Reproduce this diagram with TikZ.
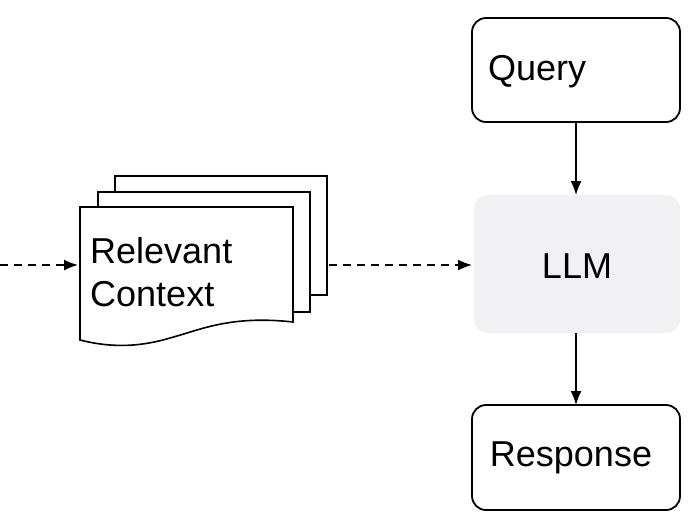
\documentclass[tikz,border=0pt]{standalone}
\usepackage{fontspec}
\setmainfont{Liberation Sans}
\usetikzlibrary{arrows.meta}
\begin{document}
\begin{tikzpicture}[x=1pt,y=-1pt,
  box/.style={draw=black,line width=1.8pt,rounded corners=14pt},
  doc/.style={draw=black,line width=1.6pt,fill=white},
  arr/.style={-{Latex[length=14pt,width=11pt]},line width=1.5pt},
  dasharr/.style={arr,dash pattern=on 8pt off 6pt},
  txt/.style={font=\fontsize{36}{43}\selectfont,inner sep=0pt}]
\useasboundingbox (0,0) rectangle (700,525);
\draw[box] (472,18) rectangle (680,122);
\node[txt,anchor=west] (query) at (488,72) {Query};
\coordinate (qb) at (576,122);
\fill[rounded corners=14pt,fill={rgb,255:red,241;green,240;blue,243}] (474,195) rectangle (680,333);
\node[txt] (llm) at (577,266) {LLM};
\coordinate (lt) at (576,195);
\coordinate (lb) at (576,333);
\coordinate (ll) at (472,265);
\draw[box] (472,405) rectangle (680,510);
\node[txt] (resp) at (571,458) {Response};
\coordinate (rt) at (576,405);
\draw[arr] (qb) -- (lt);
\draw[arr] (lb) -- (rt);
% documents
\draw[doc] (115,176) rectangle (327,295);
\draw[doc] (98,192) rectangle (310,312);
\draw[doc] (80,207) -- (293,207) -- (293,322) .. controls (230,315) and (200,330) .. (170,338) .. controls (130,350) and (100,345) .. (80,340) -- cycle;
\node[txt,anchor=north west,align=left] (ctx) at (90,237) {Relevant\\Context};
\coordinate (start) at (0,265);
\coordinate (din) at (78,265);
\coordinate (dout) at (329,265);
\draw[dasharr] (start) -- (din);
\draw[dasharr] (dout) -- (ll);
\end{tikzpicture}
\end{document}
